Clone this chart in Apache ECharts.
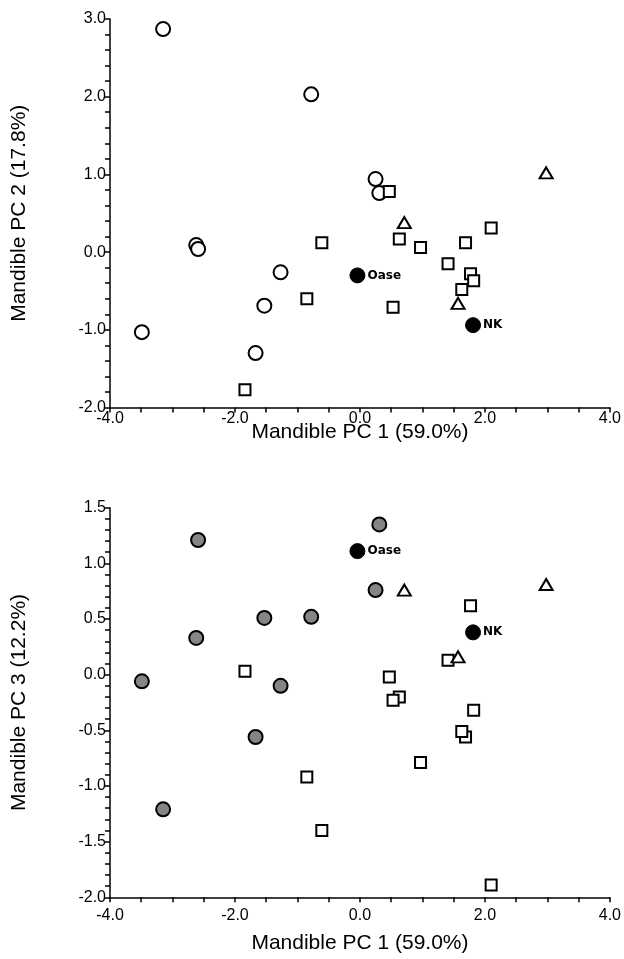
<!DOCTYPE html>
<html>
<head>
<meta charset="utf-8">
<script src="https://cdn.jsdelivr.net/npm/echarts@6/dist/echarts.min.js"></script>
<style>html,body{margin:0;padding:0;background:#fff}#c{width:624px;height:959px}</style>
</head>
<body>
<div id="c"></div>
<script>
// Group 1 (circles)
const circlePC1 = [-3.15, -0.78, -2.62, -2.59, -3.49, -1.27, -1.53, -1.67, 0.25, 0.31];
const circlePC2 = [2.87, 2.03, 0.09, 0.04, -1.03, -0.26, -0.69, -1.30, 0.94, 0.76];
const circlePC3 = [-1.21, 0.52, 0.33, 1.21, -0.06, -0.10, 0.51, -0.56, 0.76, 1.35];
// Group 2 (squares)
const squarePC1 = [-1.84, -0.85, -0.61, 0.47, 0.63, 0.53, 0.97, 1.69, 2.10, 1.41, 1.77, 1.82, 1.63];
const squarePC2 = [-1.77, -0.60, 0.12, 0.78, 0.17, -0.71, 0.06, 0.12, 0.31, -0.15, -0.28, -0.37, -0.48];
const squarePC3 = [0.03, -0.92, -1.40, -0.02, -0.20, -0.23, -0.79, -0.56, -1.89, 0.13, 0.62, -0.32, -0.51];
// Group 3 (triangles)
const trianglePC1 = [0.71, 1.57, 2.98];
const trianglePC2 = [0.38, -0.66, 1.02];
const trianglePC3 = [0.76, 0.16, 0.81];
// Fossils
const fossilNames = ['Oase', 'NK'];
const fossilPC1 = [-0.04, 1.81];
const fossilPC2 = [-0.30, -0.94];
const fossilPC3 = [1.11, 0.38];

const xTitle = 'Mandible PC 1 (59.0%)';
const y2Title = 'Mandible PC 2 (17.8%)';
const y3Title = 'Mandible PC 3 (12.2%)';

const zip = (a, b) => a.map((v, i) => [v, b[i]]);
const FONT = 'Liberation Sans, Arial, sans-serif';

function xAxisDef(gridIndex, labelMargin, nameGap) {
  return {
    type: 'value', gridIndex, min: -4, max: 4, interval: 0.5,
    axisLine: { show: true, onZero: false, lineStyle: { color: '#000', width: 1.5 } },
    axisTick: { show: true, length: 5, lineStyle: { color: '#000', width: 1.5 } },
    splitLine: { show: false },
    axisLabel: {
      color: '#000', fontFamily: FONT, fontSize: 16, margin: labelMargin,
      formatter: v => Math.abs(v / 2 - Math.round(v / 2)) < 1e-6 ? v.toFixed(1) : ''
    },
    name: xTitle, nameLocation: 'middle', nameGap, nameMoveOverlap: false,
    nameTextStyle: { color: '#000', fontFamily: FONT, fontSize: 21 }
  };
}
function yAxisDef(gridIndex, min, max, interval, labelStep, name) {
  return {
    type: 'value', gridIndex, min, max, interval,
    axisLine: { show: true, onZero: false, lineStyle: { color: '#000', width: 1.5 } },
    axisTick: { show: true, length: 5, lineStyle: { color: '#000', width: 1.5 } },
    splitLine: { show: false },
    axisLabel: {
      color: '#000', fontFamily: FONT, fontSize: 16, margin: 4,
      formatter: v => Math.abs(v / labelStep - Math.round(v / labelStep)) < 1e-6 ? v.toFixed(1) : ''
    },
    name, nameLocation: 'middle', nameGap: 80, nameRotate: 90, nameMoveOverlap: false,
    nameTextStyle: { color: '#000', fontFamily: FONT, fontSize: 21 }
  };
}

const openStyle = { color: '#fff', borderColor: '#000', borderWidth: 2, opacity: 1 };
function groupSeries(idx, pcY, grayCircles) {
  return [
    { type: 'scatter', xAxisIndex: idx, yAxisIndex: idx, symbol: 'circle', symbolSize: 14,
      data: zip(circlePC1, pcY.c),
      itemStyle: grayCircles ? { color: '#858585', borderColor: '#000', borderWidth: 2, opacity: 1 } : openStyle },
    { type: 'scatter', xAxisIndex: idx, yAxisIndex: idx, symbol: 'rect', symbolSize: 11,
      data: zip(squarePC1, pcY.s), itemStyle: openStyle },
    { type: 'scatter', xAxisIndex: idx, yAxisIndex: idx, symbol: 'triangle', symbolSize: [13, 11],
      data: zip(trianglePC1, pcY.t), itemStyle: openStyle },
    { type: 'scatter', xAxisIndex: idx, yAxisIndex: idx, symbol: 'circle', symbolSize: 15,
      data: fossilNames.map((n, i) => ({ name: n, value: [fossilPC1[i], pcY.f[i]] })),
      itemStyle: { color: '#000', borderColor: '#000', borderWidth: 1, opacity: 1 },
      label: { show: true, position: 'right', distance: 2, formatter: p => p.name,
        color: '#000', fontFamily: 'DejaVu Sans, sans-serif', fontSize: 12, fontWeight: 'bold' } }
  ];
}

const chart = echarts.init(document.getElementById('c'), null, { renderer: 'canvas' });
chart.setOption({
  animation: false,
  backgroundColor: '#fff',
  grid: [
    { left: 110, right: 12.3, top: 19, height: 388.5 },
    { left: 110, right: 12.3, top: 507.7, height: 389.6 }
  ],
  xAxis: [xAxisDef(0, 3, 14), xAxisDef(1, 10, 35)],
  yAxis: [yAxisDef(0, -2, 3, 0.2, 1, y2Title), yAxisDef(1, -2, 1.5, 0.1, 0.5, y3Title)],
  series: [
    ...groupSeries(0, { c: circlePC2, s: squarePC2, t: trianglePC2, f: fossilPC2 }, false),
    ...groupSeries(1, { c: circlePC3, s: squarePC3, t: trianglePC3, f: fossilPC3 }, true)
  ]
});
</script>
</body>
</html>
